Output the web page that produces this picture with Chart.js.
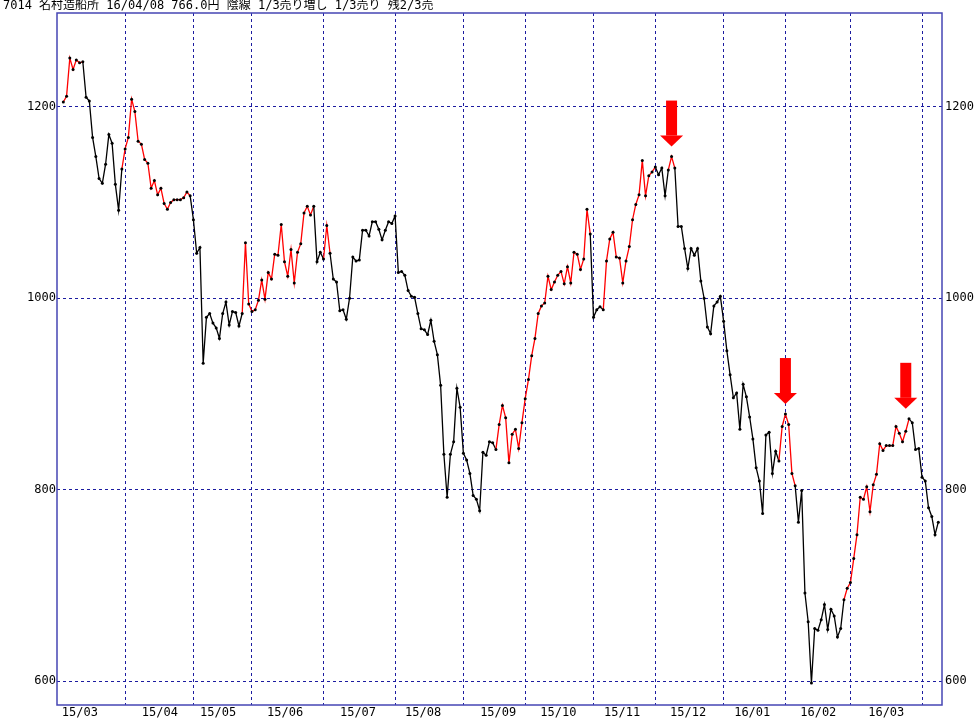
<!DOCTYPE html>
<html>
<head>
<meta charset="utf-8">
<script src="https://cdn.jsdelivr.net/npm/chart.js@4"></script>
<style>
  html, body { margin: 0; padding: 0; background: #fff; }
</style>
</head>
<body>
<canvas id="priceChart" width="976" height="720"></canvas>
<script>
// --- data ---
const headerText = '7014 名村造船所 16/04/08 766.0円 陰線 1/3売り増し 1/3売り 残2/3売';

// daily closes, 15/03/05 .. 16/04/08
const closes = [
  1205, 1211, 1251, 1239, 1249, 1246, 1247, 1210, 1206, 1168,
  1148, 1125, 1120, 1140, 1171, 1162, 1119, 1092, 1135, 1156,
  1168, 1208, 1195, 1164, 1161, 1145, 1141, 1115, 1123, 1108,
  1115, 1099, 1093, 1100, 1103, 1103, 1103, 1105, 1111, 1107,
  1082, 1047, 1053, 932, 980, 984, 974, 969, 958, 984,
  996, 972, 986, 985, 971, 984, 1058, 994, 986, 988,
  998, 1019, 999, 1027, 1020, 1046, 1045, 1077, 1038, 1023,
  1051, 1016, 1048, 1057, 1089, 1096, 1087, 1096, 1038, 1048,
  1041, 1076, 1047, 1020, 1017, 987, 988, 978, 1000, 1043,
  1039, 1040, 1071, 1071, 1065, 1080, 1080, 1072, 1061, 1071,
  1080, 1078, 1086, 1027, 1028, 1024, 1008, 1002, 1001, 984,
  968, 967, 962, 977, 955, 941, 909, 837, 792, 837,
  850, 906, 886, 838, 831, 817, 794, 790, 778, 839,
  836, 850, 849, 842, 868, 888, 875, 828, 858, 863,
  843, 870, 895, 915, 940, 958, 984, 992, 995, 1023,
  1009, 1017, 1024, 1028, 1015, 1033, 1016, 1048, 1046, 1030,
  1041, 1093, 1067, 980, 988, 991, 988, 1039, 1062, 1069,
  1043, 1042, 1016, 1039, 1054, 1082, 1098, 1108, 1144, 1107,
  1128, 1132, 1137, 1129, 1136, 1107, 1134, 1148, 1136, 1075,
  1075, 1052, 1031, 1052, 1045, 1052, 1018, 1000, 970, 963,
  992, 996, 1002, 976, 945, 920, 896, 901, 863, 910,
  897, 876, 853, 823, 809, 775, 857, 860, 817, 840,
  830, 866, 879, 868, 817, 804, 766, 799, 692, 662,
  598, 655, 653, 664, 680, 654, 675, 668, 646, 655,
  685, 697, 703, 728, 753, 792, 790, 803, 777, 805,
  816, 848, 841, 846, 846, 846, 866, 859, 850, 861,
  874, 870, 842, 843, 813, 809, 781, 772, 753, 766
];

// index of the first trading day of each month (grid lines)
const monthStarts = [19, 40, 58, 80, 102, 123, 142, 163, 182, 203, 222, 242, 264];
// month labels and where they sit (trading-day index)
const monthLabels = ['15/03', '15/04', '15/05', '15/06', '15/07', '15/08', '15/09',
                     '15/10', '15/11', '15/12', '16/01', '16/02', '16/03'];
const monthLabelPos = [5.1, 29.7, 47.6, 68.2, 90.6, 110.6, 133.7, 152.2, 171.8, 192.1, 211.8, 232.1, 253];

const yTicks = [600, 800, 1000, 1200];

// segments drawn in red (index ranges of the segment end point)
const redSpans = [[1, 6], [19, 39], [56, 77], [81, 82], [134, 162], [167, 182],
                  [187, 188], [221, 225], [241, 260]];

// sell-signal arrows (trading-day index)
const arrowIdx = [187, 222, 259];

// ----------------------------------------------------
const GRID = '#1c1ca0';
const FRAME = '#4646b4';
const FONT = "'DejaVu Sans Mono', 'Noto Sans CJK JP', monospace";

Chart.defaults.font.family = FONT;
Chart.defaults.font.size = 12;
Chart.defaults.color = '#000';

function isRed(i) {
  return redSpans.some(([a, b]) => i >= a && i <= b);
}

const framePlugin = {
  id: 'frame',
  beforeDatasetsDraw(chart) {
    const { ctx, chartArea: a } = chart;
    ctx.save();
    ctx.strokeStyle = FRAME;
    ctx.lineWidth = 1.5;
    ctx.strokeRect(a.left, a.top, a.right - a.left, a.bottom - a.top);
    ctx.restore();
  }
};

const headerPlugin = {
  id: 'header',
  afterDraw(chart) {
    const ctx = chart.ctx;
    ctx.save();
    ctx.font = '12px ' + FONT;
    ctx.fillStyle = '#000';
    ctx.textBaseline = 'top';
    ctx.fillText(headerText, 3, 0);
    ctx.restore();
  }
};

const arrowPlugin = {
  id: 'arrows',
  afterDatasetsDraw(chart) {
    const { ctx, scales } = chart;
    ctx.save();
    ctx.fillStyle = '#ff0000';
    arrowIdx.forEach(i => {
      const peak = Math.max(closes[i - 1], closes[i], closes[i + 1]);
      const x = scales.x.getPixelForValue(i);
      const tip = scales.y.getPixelForValue(peak) - 10;
      ctx.fillRect(x - 5.5, tip - 46, 11, 35);
      ctx.beginPath();
      ctx.moveTo(x - 11.5, tip - 11);
      ctx.lineTo(x + 11.5, tip - 11);
      ctx.lineTo(x, tip);
      ctx.closePath();
      ctx.fill();
    });
    ctx.restore();
  }
};

const xMin = -1.94;
const xMax = 270.14;

const ctx = document.getElementById('priceChart').getContext('2d');
new Chart(ctx, {
  type: 'line',
  data: {
    datasets: [{
      data: closes.map((v, i) => ({ x: i, y: v })),
      borderWidth: 1.3,
      tension: 0,
      pointRadius: 1.5,
      pointHoverRadius: 1.5,
      pointBackgroundColor: '#000',
      pointBorderWidth: 0,
      segment: {
        borderColor: c => isRed(c.p1DataIndex) ? '#ff0000' : '#000000'
      }
    }]
  },
  options: {
    responsive: false,
    animation: false,
    layout: { padding: { top: 13, left: 0, right: 0, bottom: 0 } },
    plugins: { legend: { display: false }, tooltip: { enabled: false } },
    scales: {
      x: {
        type: 'linear', position: 'bottom', min: xMin, max: xMax,
        afterBuildTicks: s => { s.ticks = monthLabelPos.map(v => ({ value: v })); },
        ticks: { autoSkip: false, maxRotation: 0, padding: 1, callback: (v, i) => monthLabels[i] },
        grid: { display: false, drawTicks: false },
        border: { display: false },
        afterFit: s => { s.height = 15; }
      },
      xg: {
        type: 'linear', position: 'bottom', min: xMin, max: xMax,
        afterBuildTicks: s => { s.ticks = monthStarts.map(v => ({ value: v })); },
        ticks: { display: false },
        grid: { color: GRID, lineWidth: 1, drawTicks: false },
        border: { display: false, dash: [3, 3] },
        afterFit: s => { s.height = 0; }
      },
      y: {
        position: 'left', min: 575, max: 1298,
        afterBuildTicks: s => { s.ticks = yTicks.map(v => ({ value: v })); },
        ticks: { padding: 1, callback: v => String(v) },
        grid: { color: GRID, lineWidth: 1, drawTicks: false },
        border: { display: false, dash: [3, 3] },
        afterFit: s => { s.width = 57; }
      },
      y2: {
        position: 'right', min: 575, max: 1298,
        afterBuildTicks: s => { s.ticks = yTicks.map(v => ({ value: v })); },
        ticks: { padding: 3, callback: v => String(v) },
        grid: { display: false, drawTicks: false },
        border: { display: false },
        afterFit: s => { s.width = 34; }
      }
    }
  },
  plugins: [framePlugin, arrowPlugin, headerPlugin]
});
</script>
</body>
</html>
